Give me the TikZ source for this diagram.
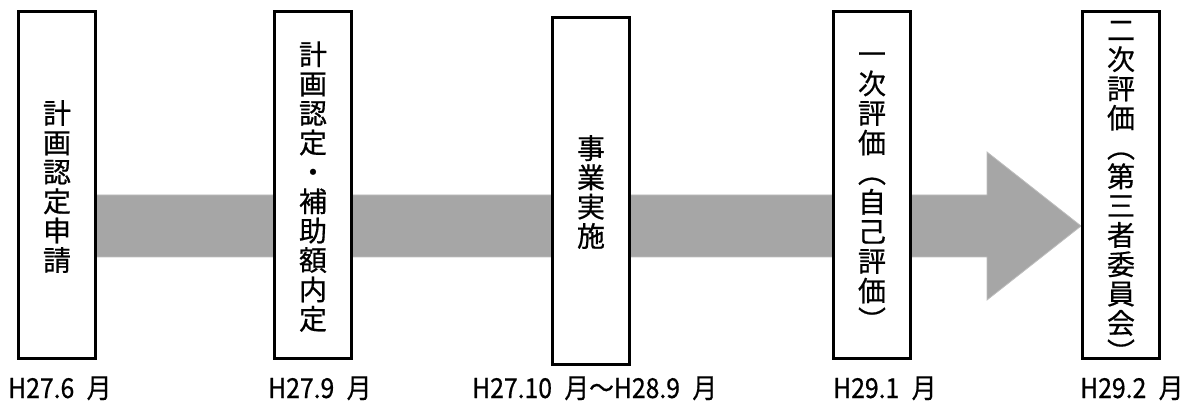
\documentclass[tikz,border=0pt]{standalone}
\usepackage{fontspec}
\usetikzlibrary{backgrounds}
\newfontfamily\jp[FakeBold=0.6]{Noto Sans CJK JP}
\newfontfamily\jplab[FakeStretch=0.9,FakeBold=0.6]{Noto Sans CJK JP}
\definecolor{arrowgray}{HTML}{A6A6A6}
\definecolor{arrowedge}{HTML}{BDBDBD}
\makeatletter
\newdimen\vspitch \vspitch=29.4pt
\newsavebox\vs@box
\newcommand\vcell[1]{\hbox to 30pt{\hss\rule[\dimexpr -0.5\vspitch+0.38em\relax]{0pt}{\vspitch}\smash{#1}\hss}}
% #1 pitch, #2 characters, #3 downward shift of the stack centre
\newcommand\vstack[3]{\vspitch=#1\relax
  \sbox\vs@box{\vbox{\offinterlineskip\@tfor\vs@c:=#2\do{\vcell{\vs@c}}}}%
  \raisebox{\dimexpr -0.5\ht\vs@box+0.5\dp\vs@box-#3\relax}[0pt][0pt]{\usebox\vs@box}}
\makeatother
\tikzset{
  stagebox/.style={draw=black, line width=3pt, fill=white, inner sep=0pt,
    minimum width=77pt, minimum height=347pt,
    font=\jp\fontsize{28pt}{29pt}\selectfont},
  datelabel/.style={anchor=base west, inner sep=0pt,
    font=\jplab\fontsize{27.5pt}{30pt}\selectfont}
}
\begin{document}
\begin{tikzpicture}[x=1pt,y=-1pt]
\useasboundingbox (0,0) rectangle (1189,403);
\node[stagebox] (b1) at (57,185) {\vstack{29.4pt}{計画認定申請}{1.5pt}};
\node[stagebox] (b2) at (313,185) {\vstack{29.4pt}{計画認定・補助額内定}{1.5pt}};
\node[stagebox] (b3) at (591,191) {\vstack{29.3pt}{事業実施}{1pt}};
\node[stagebox] (b4) at (872,185) {\vstack{29.6pt}{一次評価︵自己評価︶}{2pt}};
\node[stagebox] (b5) at (1121,185) {\vstack{29.3pt}{二次評価︵第三者委員会︶}{6pt}};
\begin{pgfonlayer}{background}
\fill[arrowgray, draw=arrowedge, line width=0.8pt]
  (b1.center |- 0,195) -- (987,195) -- (987,152) -- (b5.west |- 0,226)
  -- (987,300) -- (987,257) -- (b1.center |- 0,257) -- cycle;
\end{pgfonlayer}
\node[datelabel] (d1) at (8,398) {H27.6\hspace{0.45em}月};
\node[datelabel] (d2) at (268,398) {H27.9\hspace{0.45em}月};
\node[datelabel] (d3) at (472,398) {H27.10\hspace{0.45em}月～H28.9\hspace{0.45em}月};
\node[datelabel] (d4) at (833,398) {H29.1\hspace{0.45em}月};
\node[datelabel] (d5) at (1080,398) {H29.2\hspace{0.45em}月};
\end{tikzpicture}
\end{document}
